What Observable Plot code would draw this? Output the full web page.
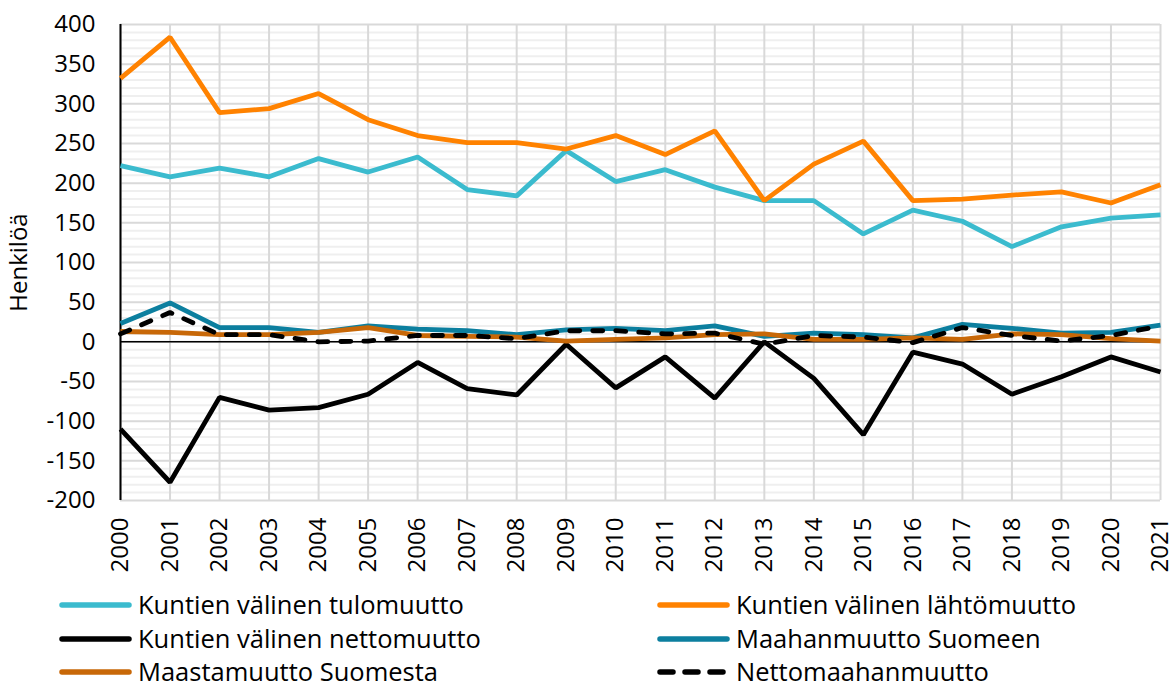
<!DOCTYPE html>
<html>
<head>
<meta charset="utf-8">
<script src="https://cdn.jsdelivr.net/npm/d3@7"></script>
<script src="https://cdn.jsdelivr.net/npm/@observablehq/plot@0.6"></script>
<style>
  html, body { margin: 0; padding: 0; background: #fff; }
  body { width: 1174px; height: 686px; overflow: hidden; font-family: "Open Sans", sans-serif; }
  #chart svg { display: block; overflow: visible; }
  #legend { position: relative; height: 111px; }
  .item { position: absolute; display: flex; align-items: center; font-size: 25.5px; color: #000; line-height: 1; white-space: nowrap; }
  .item svg { display: block; margin-right: 5px; }
</style>
</head>
<body>
<div id="chart"></div>
<div id="legend"></div>
<script>
const years = [2000, 2001, 2002, 2003, 2004, 2005, 2006, 2007, 2008, 2009, 2010,
               2011, 2012, 2013, 2014, 2015, 2016, 2017, 2018, 2019, 2020, 2021];

const tulomuutto   = [222, 208, 219, 208, 231, 214, 233, 192, 184, 241, 202, 217, 195, 178, 178, 136, 166, 152, 120, 145, 156, 160];
const lahtomuutto  = [332, 384, 289, 294, 313, 280, 260, 251, 251, 243, 260, 236, 266, 178, 224, 253, 178, 180, 185, 189, 175, 198];
const nettomuutto  = [-110, -177, -70, -86, -83, -66, -26, -59, -67, -3, -58, -19, -71, 0, -46, -117, -13, -28, -66, -44, -19, -38];
const maahanmuutto = [23, 49, 18, 18, 12, 20, 16, 14, 9, 15, 17, 14, 20, 7, 11, 9, 5, 22, 17, 11, 12, 21];
const maastamuutto = [13, 12, 9, 9, 12, 18, 8, 7, 6, 1, 3, 5, 9, 10, 3, 3, 5, 3, 10, 9, 4, 1];
const nettomaahan  = [10, 37, 9, 9, 0, 1, 8, 8, 4, 14, 14, 10, 11, -3, 8, 6, -1, 18, 8, 1, 8, 20];

const yTicks = [-200, -150, -100, -50, 0, 50, 100, 150, 200, 250, 300, 350, 400];

const seriesNames = [
  "Kuntien välinen tulomuutto",
  "Kuntien välinen lähtömuutto",
  "Kuntien välinen nettomuutto",
  "Maahanmuutto Suomeen",
  "Maastamuutto Suomesta",
  "Nettomaahanmuutto"
];
const seriesValues = [tulomuutto, lahtomuutto, nettomuutto, maahanmuutto, maastamuutto, nettomaahan];
const seriesColors = ["#3bbbce", "#ff8200", "#000000", "#0c7f9f", "#c86808", "#000000"];
const seriesDashed = [false, false, false, false, false, true];

const rows = [];
seriesNames.forEach((name, si) => {
  years.forEach((yr, i) => rows.push({series: name, year: yr, value: seriesValues[si][i]}));
});

const minorTicks = d3.range(-200, 401, 10).filter(v => v % 50 !== 0);

const lineMarks = seriesNames.map((name, si) =>
  Plot.line(rows.filter(r => r.series === name), {
    x: "year", y: "value",
    stroke: seriesColors[si],
    strokeWidth: 4.8,
    strokeDasharray: seriesDashed[si] ? "10,13" : null,
    strokeLinecap: seriesDashed[si] ? "round" : "butt",
    strokeLinejoin: "miter"
  })
);

const chart = Plot.plot({
  width: 1174,
  height: 575,
  marginTop: 24,
  marginBottom: 75,
  marginLeft: 120,
  marginRight: 14,
  style: {fontFamily: "Open Sans, sans-serif", fontSize: "24px", color: "#000", background: "#fff", overflow: "visible"},
  x: {domain: [2000, 2021], ticks: years, tickFormat: d => String(d), tickRotate: -90, tickSize: 0, tickPadding: 17, label: null},
  y: {domain: [-200, 400], ticks: yTicks, tickFormat: d => String(d), tickSize: 0, tickPadding: 25, label: "Henkilöä", labelAnchor: "center", labelOffset: 111, labelArrow: "none"},
  marks: [
    Plot.ruleY(minorTicks, {stroke: "#efefef", strokeWidth: 2}),
    Plot.ruleY(yTicks, {stroke: "#d9d9d9", strokeWidth: 2}),
    Plot.ruleX(years, {stroke: "#d9d9d9", strokeWidth: 2}),
    Plot.ruleY([0], {stroke: "#000", strokeWidth: 1.5}),
    Plot.ruleX([2000], {stroke: "#000", strokeWidth: 2}),
    ...lineMarks
  ]
});
document.getElementById("chart").appendChild(chart);

// Legend
const legend = document.getElementById("legend");
const pos = [
  {left: 57, top: 30}, {left: 655, top: 30},
  {left: 57, top: 64}, {left: 655, top: 64},
  {left: 57, top: 97}, {left: 655, top: 97}
];
seriesNames.forEach((name, si) => {
  const item = document.createElement("div");
  item.className = "item";
  item.style.left = pos[si].left + "px";
  item.style.top = (pos[si].top - 13) + "px";
  item.style.height = "26px";
  const dash = seriesDashed[si] ? 'stroke-dasharray="13,12" stroke-linecap="round"' : 'stroke-linecap="round"';
  item.innerHTML = `<svg width="76" height="10"><line x1="5" y1="5" x2="72" y2="5" stroke="${seriesColors[si]}" stroke-width="5.5" ${dash}/></svg><span>${name}</span>`;
  legend.appendChild(item);
});
</script>
</body>
</html>
